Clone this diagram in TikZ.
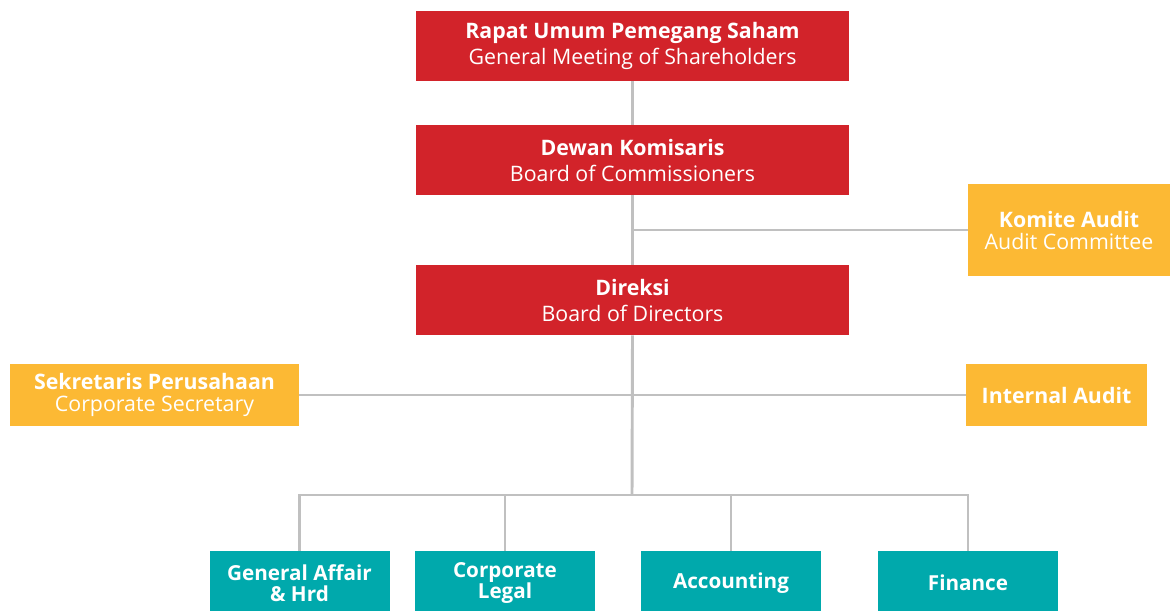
\documentclass[tikz,border=0pt]{standalone}
\usepackage{fontspec}
\setmainfont{Open Sans}
\usetikzlibrary{positioning}
\newcommand{\LINEPT}{2.2pt}
\newcommand{\TRUNKX}{632}
\newcommand{\SPLITY}{495}
\definecolor{myred}{RGB}{210,35,42}
\definecolor{myyellow}{RGB}{252,185,52}
\definecolor{myteal}{RGB}{0,169,172}
\definecolor{mygray}{RGB}{192,192,192}
\tikzset{
	orgbox/.style={draw=none,inner sep=0pt,align=center,text=white,font=\fontsize{16}{19.5}\selectfont},
	redbox/.style={orgbox,fill=myred,minimum width=324.75pt,minimum height=52.5pt},
	yellowbox/.style={orgbox,fill=myyellow,font=\fontsize{16}{16.5}\selectfont},
	tealbox/.style={orgbox,fill=myteal,minimum width=135pt,minimum height=48pt,font=\fontsize{15.5}{15.75}\selectfont\bfseries},
	link/.style={-,color=mygray,line width=\LINEPT}
}
\begin{document}
\begin{tikzpicture}[x=0.75pt,y=-0.75pt]
	
		\useasboundingbox (0,0) rectangle (1170,610);
		
		%% top column
		\node[redbox] (rups) at (632.5,46) {\textbf{Rapat Umum Pemegang Saham}\\General Meeting of Shareholders};
		\node[redbox] (dk) at (632.5,160) {\textbf{Dewan Komisaris}\\Board of Commissioners};
		\node[redbox] (dir) at (632.5,300) {\textbf{Direksi}\\Board of Directors};
		
		%% side boxes
		\node[yellowbox,minimum width=151.5pt,minimum height=69pt] (ka) at (1069,230) {\textbf{Komite Audit}\\Audit Committee};
		\node[yellowbox,minimum width=216.75pt,minimum height=46.5pt] (sek) at (154.5,395) {\textbf{Sekretaris Perusahaan}\\Corporate Secretary};
		\node[yellowbox,minimum width=135.75pt,minimum height=46.5pt] (ia) at (1056.5,395) {\textbf{Internal Audit}};
		
		%% bottom row
		\node[tealbox] (ga) at (299.5,583) {General Affair\\\& Hrd};
		\node[tealbox] (legal) at (505,583) {Corporate\\Legal};
		\node[tealbox] (acc) at (731,583) {Accounting};
		\node[tealbox] (fin) at (968,583) {Finance};
		
		\coordinate (split) at (\TRUNKX,\SPLITY);
		
		%% connectors
		\draw[link] (rups.south) -- (dk.north);
		\draw[link] (dk.south) -- (dir.north);
		\draw[link] (ka.west) -- (ka.west -| dk.south);
		\draw[link] (dir.south) -- (split);
		\draw[link] (sek.east) -- (ia.west);
		\draw[link] (ga.north) |- (split) -| (fin.north);
		\draw[link] (legal.north) -- (legal.north |- split);
		\draw[link] (acc.north) -- (acc.north |- split);

	\end{tikzpicture}
\end{document}
